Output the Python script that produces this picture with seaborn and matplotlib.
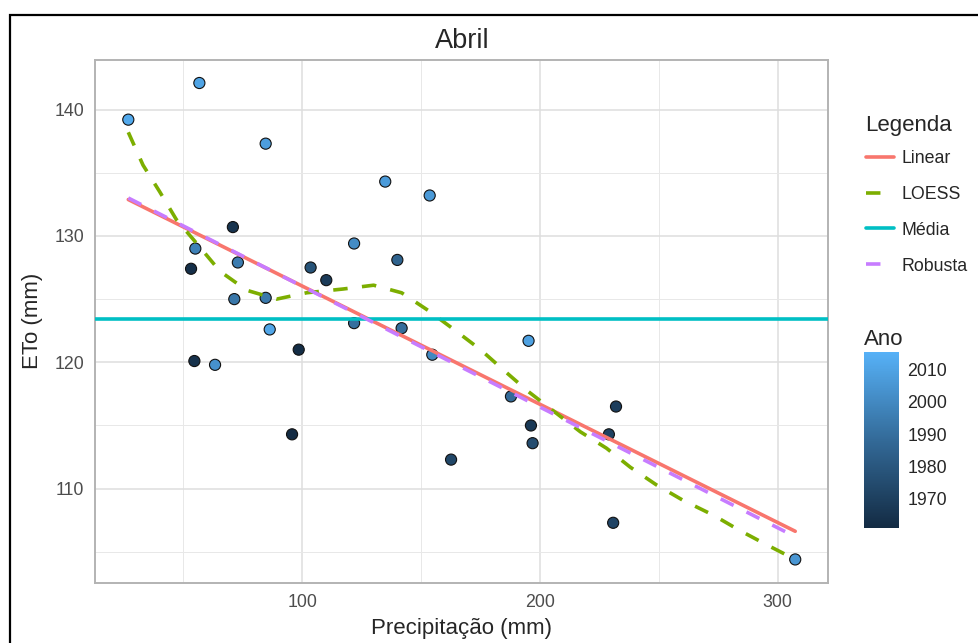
import numpy as np
import pandas as pd
import matplotlib
matplotlib.use("Agg")
import matplotlib.pyplot as plt
import seaborn as sns
from matplotlib.colors import LinearSegmentedColormap, Normalize
from matplotlib.lines import Line2D
from matplotlib.patches import Rectangle
from matplotlib.cm import ScalarMappable

# Dados de abril: precipitação (mm), ETo (mm) e ano
precip = [26.8, 56.7, 84.6, 134.9, 153.6, 70.8, 121.8, 55.0, 72.9, 53.2,
          103.5, 110.1, 71.4, 84.6, 121.8, 141.8, 86.3, 195.2, 98.5, 154.7,
          54.6, 63.3, 187.8, 196.2, 196.9, 95.7, 162.6, 232.0, 229.0, 230.8,
          307.4, 140.0]
eto = [139.2, 142.1, 137.3, 134.3, 133.2, 130.7, 129.4, 129.0, 127.9, 127.4,
       127.5, 126.5, 125.0, 125.1, 123.1, 122.7, 122.6, 121.7, 121.0, 120.6,
       120.1, 119.8, 117.3, 115.0, 113.6, 114.3, 112.3, 116.5, 114.3, 107.3,
       104.4, 128.1]
ano = [2012, 2010, 2008, 2007, 2006, 1965, 2001, 1997, 1995, 1963,
       1978, 1968, 1993, 1994, 1990, 1989, 2011, 2009, 1962, 2000,
       1964, 2003, 1988, 1967, 1975, 1961, 1973, 1969, 1971, 1972,
       2005, 1985]

# curvas
loess_x = [26.8, 33, 40, 47, 55.6, 65.4, 76.6, 89.2, 101.8, 117.2, 130, 141.8,
           153, 164.5, 175, 184.6, 195, 206, 217, 228, 238, 249, 260, 273,
           284, 295, 307.4]
loess_y = [138.2, 135.6, 133.5, 131.3, 129.4, 127.2, 125.7, 125.0, 125.5,
           125.8, 126.1, 125.5, 124.1, 122.5, 121.0, 119.4, 117.7, 116.1,
           114.5, 113.2, 111.7, 110.3, 109.1, 107.9, 106.7, 105.6, 104.4]
robusta_x = [26.8, 307.4]
robusta_y = [133.0, 106.2]

df = pd.DataFrame({"Precipitacao": precip, "ETo": eto, "Ano": ano})

sns.set_style("whitegrid")
plt.rcParams["font.family"] = ["Liberation Sans", "DejaVu Sans"]

cmap = LinearSegmentedColormap.from_list("ano", ["#132B43", "#336A98", "#56B1F7"])
norm = Normalize(vmin=1961, vmax=2015.3)

fig = plt.figure(figsize=(9.79, 6.43), dpi=100)
ax = fig.add_axes([95.5 / 979, 1 - 582.7 / 643, 733 / 979, 522.7 / 643])

sns.scatterplot(data=df, x="Precipitacao", y="ETo", hue="Ano", palette=cmap,
                hue_norm=norm, s=64, edgecolor="#111111", linewidth=0.8,
                legend=False, ax=ax, zorder=3)

cor_linear, cor_loess, cor_media, cor_rob = "#F8766D", "#7CAE00", "#00BFC4", "#C77CFF"
lw = 2.6
sns.regplot(data=df, x="Precipitacao", y="ETo", scatter=False, ci=None,
            color=cor_linear, line_kws={"lw": lw, "zorder": 4}, ax=ax)
ax.plot(loess_x, loess_y, color=cor_loess, lw=lw, ls=(0, (4, 4)), zorder=5)
ax.axhline(np.mean(eto), color=cor_media, lw=lw, zorder=5)
ax.plot(robusta_x, robusta_y, color=cor_rob, lw=lw, ls=(0, (4, 4)), zorder=6)

ax.set_xlim(13.0, 321.4)
ax.set_ylim(102.56, 143.92)
ax.set_xticks([100, 200, 300])
ax.set_yticks([110, 120, 130, 140])
ax.set_xticks([50, 150, 250], minor=True)
ax.set_yticks([105, 115, 125, 135], minor=True)
ax.grid(which="major", color="#DEDEDE", lw=1.1)
ax.grid(which="minor", color="#E8E8E8", lw=0.7)
ax.set_axisbelow(True)
for sp in ax.spines.values():
    sp.set_color("#B3B3B3")
    sp.set_linewidth(1.4)
ax.tick_params(which="major", length=4.5, width=1.0, color="#B3B3B3",
               labelsize=12.8, labelcolor="#4D4D4D", pad=3.5)
ax.tick_params(which="minor", length=0)

ax.set_title("Abril", fontsize=19.5, pad=9)
ax.set_xlabel("Precipitação (mm)", fontsize=16, labelpad=5.5)
ax.set_ylabel("ETo (mm)", fontsize=16, labelpad=8.5)

# legenda das linhas
fig.text(865 / 979, 1 - 125 / 643, "Legenda", fontsize=16, ha="left", va="center")
handles = [
    Line2D([], [], color=cor_linear, lw=lw),
    Line2D([], [], color=cor_loess, lw=lw, ls=(0, (4, 4))),
    Line2D([], [], color=cor_media, lw=lw),
    Line2D([], [], color=cor_rob, lw=lw, ls=(0, (4, 4))),
]
leg = fig.legend(handles, ["Linear", "LOESS", "Média", "Robusta"],
                 loc="upper left", bbox_to_anchor=(866 / 979, 1 - 150 / 643),
                 frameon=False, fontsize=12.8,
                 handlelength=1.55, handletextpad=0.45, labelspacing=1.06,
                 borderpad=0, borderaxespad=0)

# barra de cores
cax = fig.add_axes([864 / 979, 1 - 528 / 643, 35 / 979, 176 / 643])
cb = fig.colorbar(ScalarMappable(norm=norm, cmap=cmap), cax=cax)
cb.outline.set_visible(False)
cb.set_ticks([1970, 1980, 1990, 2000, 2010])
cax.tick_params(direction="in", length=5, width=0.8, color="white",
                left=True, right=True, labelsize=12.8, pad=6)
cax.set_title("Ano", loc="left", fontsize=16, pad=5)

# moldura
fig.patches.append(Rectangle((10 / 979, -0.1), 1.2, 1.1 - 15 / 643, transform=fig.transFigure,
                             fill=False, edgecolor="black", lw=1.6))

fig.savefig("out.png", dpi=100)
